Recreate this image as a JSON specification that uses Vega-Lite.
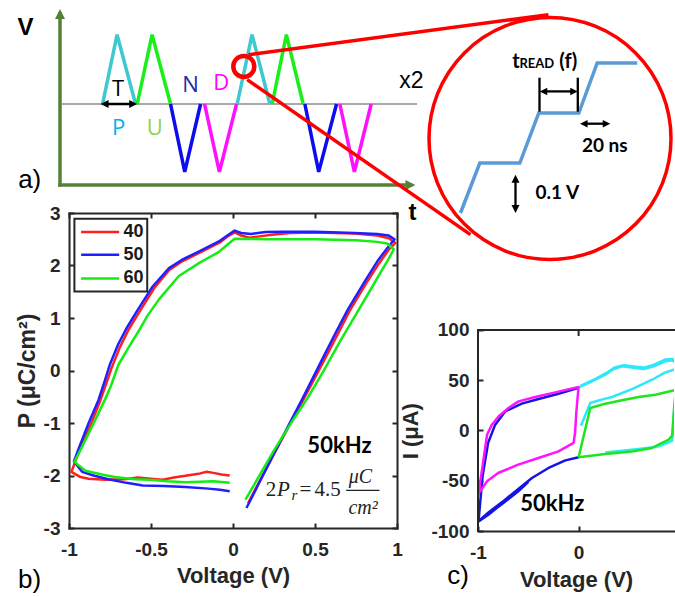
{
  "$schema": "https://vega.github.io/schema/vega-lite/v6.json",
  "padding": {"left": 16, "top": 9, "right": 0, "bottom": 0},
  "columns": 2,
  "bounds": "flush",
  "spacing": {"row": 28, "column": 62},
  "resolve": {"scale": {"color": "independent"}},
  "config": {
    "view": {"stroke": null},
    "axis": {
      "grid": false,
      "domainColor": "#262626", "domainWidth": 2, "domainCap": "square",
      "tickColor": "#262626", "tickWidth": 2, "tickSize": -5,
      "labelFont": "Liberation Sans", "labelFontSize": 19, "labelFontWeight": "bold", "labelColor": "#262626",
      "labelPadding": 17, "labelFlush": false,
      "titleFont": "Liberation Sans", "titleFontSize": 22, "titleFontWeight": "bold", "titleColor": "#262626"
    }
  },
  "concat": [
    {
      "width": 347, "height": 176,
      "encoding": {
        "x": {"field": "t", "type": "quantitative", "scale": {"domain": [0.2727, 10.788], "nice": false, "zero": false}, "axis": null},
        "y": {"field": "v", "type": "quantitative", "scale": {"domain": [-1.169, 1.371], "nice": false, "zero": false}, "axis": null}
      },
      "layer": [
        {
          "data": {"values": [{"t": 0.05, "t2": 10.82, "v": 0}]},
          "mark": {"type": "rule", "color": "#8c8c8c", "strokeWidth": 1.5},
          "encoding": {"x2": {"field": "t2"}}
        },
        {
          "data": {"values": [
            {"seg": 1, "kind": "P", "o": 0, "t": 1.29, "v": 0}, {"seg": 1, "kind": "P", "o": 1, "t": 1.73, "v": 1}, {"seg": 1, "kind": "P", "o": 2, "t": 2.29, "v": 0},
            {"seg": 2, "kind": "U", "o": 0, "t": 2.34, "v": 0}, {"seg": 2, "kind": "U", "o": 1, "t": 2.79, "v": 1}, {"seg": 2, "kind": "U", "o": 2, "t": 3.35, "v": 0},
            {"seg": 3, "kind": "N", "o": 0, "t": 3.35, "v": 0}, {"seg": 3, "kind": "N", "o": 1, "t": 3.78, "v": -0.98}, {"seg": 3, "kind": "N", "o": 2, "t": 4.26, "v": 0},
            {"seg": 4, "kind": "D", "o": 0, "t": 4.38, "v": 0}, {"seg": 4, "kind": "D", "o": 1, "t": 4.83, "v": -0.98}, {"seg": 4, "kind": "D", "o": 2, "t": 5.35, "v": 0},
            {"seg": 5, "kind": "P", "o": 0, "t": 5.37, "v": 0}, {"seg": 5, "kind": "P", "o": 1, "t": 5.82, "v": 1}, {"seg": 5, "kind": "P", "o": 2, "t": 6.36, "v": 0},
            {"seg": 6, "kind": "U", "o": 0, "t": 6.43, "v": 0}, {"seg": 6, "kind": "U", "o": 1, "t": 6.86, "v": 1}, {"seg": 6, "kind": "U", "o": 2, "t": 7.37, "v": 0},
            {"seg": 7, "kind": "N", "o": 0, "t": 7.42, "v": 0}, {"seg": 7, "kind": "N", "o": 1, "t": 7.84, "v": -0.98}, {"seg": 7, "kind": "N", "o": 2, "t": 8.38, "v": 0},
            {"seg": 8, "kind": "D", "o": 0, "t": 8.48, "v": 0}, {"seg": 8, "kind": "D", "o": 1, "t": 8.92, "v": -0.98}, {"seg": 8, "kind": "D", "o": 2, "t": 9.43, "v": 0}
          ]},
          "mark": {"type": "line", "strokeWidth": 3.5},
          "encoding": {
            "color": {"field": "kind", "type": "nominal", "scale": {"domain": ["P", "U", "N", "D"], "range": ["#3ec8cf", "#1aef1a", "#0c0cee", "#ff10ff"]}, "legend": null},
            "detail": {"field": "seg"},
            "order": {"field": "o", "type": "quantitative"}
          }
        },
        {
          "data": {"values": [
            {"t": 0, "t2": 0, "v": -1.169, "v2": 1.2987},
            {"t": 0, "t2": 10.62, "v": -1.169, "v2": -1.169}
          ]},
          "mark": {"type": "rule", "color": "#548235", "strokeWidth": 3.5, "strokeCap": "square"},
          "encoding": {"x2": {"field": "t2"}, "y2": {"field": "v2"}}
        },
        {
          "data": {"values": [{"t": 0, "v": 1.2987}]},
          "mark": {"type": "point", "shape": "M0,-1L1,1L-1,1Z", "size": 100, "filled": true, "opacity": 1, "color": "#548235"}
        },
        {
          "data": {"values": [{"t": 10.62, "v": -1.169}]},
          "mark": {"type": "point", "shape": "M1,0L-1,-1L-1,1Z", "size": 100, "filled": true, "opacity": 1, "color": "#548235"}
        },
        {
          "data": {"values": [{"t": 1.35, "t2": 2.218, "v": 0}]},
          "mark": {"type": "rule", "color": "#000000", "strokeWidth": 2.5},
          "encoding": {"x2": {"field": "t2"}}
        },
        {
          "data": {"values": [{"t": 1.35, "v": 0}]},
          "mark": {"type": "point", "shape": "M-1,0L1,-1L1,1Z", "size": 64, "filled": true, "opacity": 1, "color": "#000000"}
        },
        {
          "data": {"values": [{"t": 2.218, "v": 0}]},
          "mark": {"type": "point", "shape": "M1,0L-1,-1L-1,1Z", "size": 64, "filled": true, "opacity": 1, "color": "#000000"}
        },
        {
          "data": {"values": [
            {"t": 1.758, "v": 0.218, "txt": "T"},
            {"t": 1.779, "v": -0.346, "txt": "P"},
            {"t": 2.87, "v": -0.346, "txt": "U"},
            {"t": 3.955, "v": 0.278, "txt": "N"},
            {"t": 4.888, "v": 0.296, "txt": "D"}
          ]},
          "mark": {"type": "text", "font": "Open Sans", "fontSize": 22, "align": "center", "baseline": "middle"},
          "encoding": {
            "text": {"field": "txt", "type": "nominal"},
            "color": {"field": "txt", "type": "nominal", "scale": {"domain": ["T", "P", "U", "N", "D"], "range": ["#000000", "#00b0f0", "#92d050", "#1f2aa0", "#ff00ff"]}, "legend": null}
          }
        },
        {
          "data": {"values": [{"t": 10.645, "v": 0.326, "txt": "x2"}]},
          "mark": {"type": "text", "font": "Liberation Sans", "fontSize": 23, "align": "center", "baseline": "middle", "color": "#000000"},
          "encoding": {"text": {"field": "txt", "type": "nominal"}}
        },
        {
          "data": {"values": [{"t": -1.045, "v": 1.097, "txt": "V"}, {"t": 10.68, "v": -1.569, "txt": "t"}]},
          "mark": {"type": "text", "font": "Liberation Sans", "fontSize": 24, "fontWeight": "bold", "align": "center", "baseline": "middle", "color": "#000000"},
          "encoding": {"text": {"field": "txt", "type": "nominal"}}
        },
        {
          "data": {"values": [{"t": -0.918, "v": -1.104, "txt": "a)"}]},
          "mark": {"type": "text", "font": "Liberation Sans", "fontSize": 26, "align": "center", "baseline": "middle", "color": "#000000"},
          "encoding": {"text": {"field": "txt", "type": "nominal"}}
        },
        {
          "data": {"values": [{"t": 5.57, "v": 0.5426}]},
          "mark": {"type": "point", "shape": "circle", "size": 441, "filled": false, "opacity": 1, "color": "#ff0000", "strokeWidth": 4.5}
        },
        {
          "data": {"values": [
            {"t": 5.712, "v": 0.711, "t2": 14.803, "v2": 1.2886},
            {"t": 5.673, "v": 0.351, "t2": 12.439, "v2": -1.886}
          ]},
          "mark": {"type": "rule", "color": "#ff0000", "strokeWidth": 3.5},
          "encoding": {"x2": {"field": "t2"}, "y2": {"field": "v2"}}
        }
      ],
      "resolve": {"scale": {"color": "independent"}}
    },
    {
      "width": 196, "height": 176,
      "encoding": {
        "x": {"field": "ns", "type": "quantitative", "scale": {"domain": [0, 130.67], "nice": false, "zero": false}, "axis": null},
        "y": {"field": "volt", "type": "quantitative", "scale": {"domain": [0.056, 0.408], "nice": false, "zero": false}, "axis": null}
      },
      "layer": [
        {
          "data": {"values": [{"ns": 48.0, "volt": 0.149}]},
          "mark": {"type": "point", "shape": "circle", "size": 58564, "filled": false, "opacity": 1, "color": "#ff0000", "strokeWidth": 3.5}
        },
        {
          "data": {"values": [
            {"o": 0, "ns": -11.67, "volt": 0.0},
            {"o": 1, "ns": 1.2, "volt": 0.1},
            {"o": 2, "ns": 27.87, "volt": 0.1},
            {"o": 3, "ns": 40.53, "volt": 0.2},
            {"o": 4, "ns": 67.2, "volt": 0.2},
            {"o": 5, "ns": 79.47, "volt": 0.3},
            {"o": 6, "ns": 106.13, "volt": 0.3}
          ]},
          "mark": {"type": "line", "color": "#5b9bd5", "strokeWidth": 3.5},
          "encoding": {"order": {"field": "o", "type": "quantitative"}}
        },
        {
          "data": {"values": [
            {"ns": 41.0, "ns2": 41.0, "volt": 0.2026, "volt2": 0.2706},
            {"ns": 66.53, "ns2": 66.53, "volt": 0.2026, "volt2": 0.2706},
            {"ns": 43.67, "ns2": 64.0, "volt": 0.2432, "volt2": 0.2432},
            {"ns": 70.53, "ns2": 85.67, "volt": 0.1786, "volt2": 0.1786},
            {"ns": 25.0, "ns2": 25.0, "volt": 0.0686, "volt2": 0.008}
          ]},
          "mark": {"type": "rule", "color": "#000000", "strokeWidth": 2.3},
          "encoding": {"x2": {"field": "ns2"}, "y2": {"field": "volt2"}}
        },
        {
          "data": {"values": [{"ns": 43.67, "volt": 0.2432}, {"ns": 70.53, "volt": 0.1786}]},
          "mark": {"type": "point", "shape": "M-1,0L1,-1L1,1Z", "size": 56, "filled": true, "opacity": 1, "color": "#000000"}
        },
        {
          "data": {"values": [{"ns": 64.0, "volt": 0.2432}, {"ns": 85.67, "volt": 0.1786}]},
          "mark": {"type": "point", "shape": "M1,0L-1,-1L-1,1Z", "size": 56, "filled": true, "opacity": 1, "color": "#000000"}
        },
        {
          "data": {"values": [{"ns": 25.0, "volt": 0.0686}]},
          "mark": {"type": "point", "shape": "M0,-1L1,1L-1,1Z", "size": 64, "filled": true, "opacity": 1, "color": "#000000"}
        },
        {
          "data": {"values": [{"ns": 25.0, "volt": 0.008}]},
          "mark": {"type": "point", "shape": "M0,1L1,-1L-1,-1Z", "size": 64, "filled": true, "opacity": 1, "color": "#000000"}
        },
        {
          "data": {"values": [{"ns": 22.8, "volt": 0.29, "txt": "t"}, {"ns": 54.2, "volt": 0.29, "txt": "(f)"}]},
          "mark": {"type": "text", "font": "Lato", "fontSize": 20, "fontWeight": "bold", "align": "left", "baseline": "alphabetic", "color": "#000000"},
          "encoding": {"text": {"field": "txt", "type": "nominal"}}
        },
        {
          "data": {"values": [{"ns": 27.67, "volt": 0.29, "txt": "READ"}]},
          "mark": {"type": "text", "font": "Lato", "fontSize": 13, "fontWeight": "bold", "align": "left", "baseline": "alphabetic", "color": "#000000"},
          "encoding": {"text": {"field": "txt", "type": "nominal"}}
        },
        {
          "data": {"values": [{"ns": 84.53, "volt": 0.1332, "txt": "20 ns"}]},
          "mark": {"type": "text", "font": "Lato", "fontSize": 19, "fontWeight": "bold", "align": "center", "baseline": "middle", "color": "#000000"},
          "encoding": {"text": {"field": "txt", "type": "nominal"}}
        },
        {
          "data": {"values": [{"ns": 38.33, "volt": 0.04, "txt": "0.1 V"}]},
          "mark": {"type": "text", "font": "Lato", "fontSize": 19, "fontWeight": "bold", "align": "left", "baseline": "middle", "color": "#000000"},
          "encoding": {"text": {"field": "txt", "type": "nominal"}}
        }
      ]
    },
    {
      "width": 328, "height": 315,
      "encoding": {
        "x": {"field": "V", "type": "quantitative", "scale": {"domain": [-1, 1], "nice": false, "zero": false}, "axis": null},
        "y": {"field": "P", "type": "quantitative", "scale": {"domain": [-3, 3], "nice": false, "zero": false}, "axis": null}
      },
      "layer": [
        {
          "data": {"values": [
            {"s": "40", "o": 1, "V": 0.092, "P": -2.53}, {"s": "40", "o": 2, "V": 0.16, "P": -2.12}, {"s": "40", "o": 3, "V": 0.26, "P": -1.53},
            {"s": "40", "o": 4, "V": 0.36, "P": -0.95}, {"s": "40", "o": 5, "V": 0.43, "P": -0.55}, {"s": "40", "o": 6, "V": 0.56, "P": 0.22},
            {"s": "40", "o": 7, "V": 0.64, "P": 0.7}, {"s": "40", "o": 8, "V": 0.71, "P": 1.13}, {"s": "40", "o": 9, "V": 0.81, "P": 1.65},
            {"s": "40", "o": 10, "V": 0.89, "P": 2.04}, {"s": "40", "o": 11, "V": 0.95, "P": 2.3}, {"s": "40", "o": 12, "V": 0.99, "P": 2.43},
            {"s": "40", "o": 13, "V": 0.95, "P": 2.52}, {"s": "40", "o": 14, "V": 0.88, "P": 2.57}, {"s": "40", "o": 15, "V": 0.74, "P": 2.61},
            {"s": "40", "o": 16, "V": 0.5, "P": 2.63}, {"s": "40", "o": 17, "V": 0.35, "P": 2.62}, {"s": "40", "o": 18, "V": 0.25, "P": 2.59},
            {"s": "40", "o": 19, "V": 0.15, "P": 2.55}, {"s": "40", "o": 20, "V": 0.1, "P": 2.53}, {"s": "40", "o": 21, "V": 0.05, "P": 2.57},
            {"s": "40", "o": 22, "V": 0.01, "P": 2.63}, {"s": "40", "o": 23, "V": -0.03, "P": 2.56}, {"s": "40", "o": 24, "V": -0.08, "P": 2.44},
            {"s": "40", "o": 25, "V": -0.2, "P": 2.25}, {"s": "40", "o": 26, "V": -0.31, "P": 2.08}, {"s": "40", "o": 27, "V": -0.39, "P": 1.91},
            {"s": "40", "o": 28, "V": -0.48, "P": 1.57}, {"s": "40", "o": 29, "V": -0.57, "P": 1.12}, {"s": "40", "o": 30, "V": -0.64, "P": 0.76},
            {"s": "40", "o": 31, "V": -0.69, "P": 0.44}, {"s": "40", "o": 32, "V": -0.74, "P": 0.05}, {"s": "40", "o": 33, "V": -0.77, "P": -0.22},
            {"s": "40", "o": 34, "V": -0.81, "P": -0.58}, {"s": "40", "o": 35, "V": -0.87, "P": -1.05}, {"s": "40", "o": 36, "V": -0.92, "P": -1.4},
            {"s": "40", "o": 37, "V": -0.95, "P": -1.63}, {"s": "40", "o": 38, "V": -0.985, "P": -1.93}, {"s": "40", "o": 39, "V": -0.93, "P": -2.03},
            {"s": "40", "o": 40, "V": -0.88, "P": -2.06}, {"s": "40", "o": 41, "V": -0.78, "P": -2.08}, {"s": "40", "o": 42, "V": -0.66, "P": -2.07},
            {"s": "40", "o": 43, "V": -0.58, "P": -2.04}, {"s": "40", "o": 44, "V": -0.5, "P": -2.06}, {"s": "40", "o": 45, "V": -0.43, "P": -2.08},
            {"s": "40", "o": 46, "V": -0.36, "P": -2.04}, {"s": "40", "o": 47, "V": -0.28, "P": -2.0}, {"s": "40", "o": 48, "V": -0.2, "P": -1.96},
            {"s": "40", "o": 49, "V": -0.16, "P": -1.93}, {"s": "40", "o": 50, "V": -0.12, "P": -1.95}, {"s": "40", "o": 51, "V": -0.07, "P": -1.98},
            {"s": "40", "o": 52, "V": -0.02, "P": -2.0},
            {"s": "50", "o": 1, "V": 0.082, "P": -2.62}, {"s": "50", "o": 2, "V": 0.15, "P": -2.2}, {"s": "50", "o": 3, "V": 0.25, "P": -1.58},
            {"s": "50", "o": 4, "V": 0.35, "P": -0.98}, {"s": "50", "o": 5, "V": 0.42, "P": -0.56}, {"s": "50", "o": 6, "V": 0.55, "P": 0.25},
            {"s": "50", "o": 7, "V": 0.63, "P": 0.74}, {"s": "50", "o": 8, "V": 0.7, "P": 1.16}, {"s": "50", "o": 9, "V": 0.8, "P": 1.68},
            {"s": "50", "o": 10, "V": 0.88, "P": 2.08}, {"s": "50", "o": 11, "V": 0.94, "P": 2.33}, {"s": "50", "o": 12, "V": 0.985, "P": 2.5},
            {"s": "50", "o": 13, "V": 0.95, "P": 2.57}, {"s": "50", "o": 14, "V": 0.88, "P": 2.6}, {"s": "50", "o": 15, "V": 0.74, "P": 2.62},
            {"s": "50", "o": 16, "V": 0.5, "P": 2.645}, {"s": "50", "o": 17, "V": 0.3, "P": 2.645}, {"s": "50", "o": 18, "V": 0.2, "P": 2.64},
            {"s": "50", "o": 19, "V": 0.11, "P": 2.6}, {"s": "50", "o": 20, "V": 0.05, "P": 2.62}, {"s": "50", "o": 21, "V": 0.01, "P": 2.665},
            {"s": "50", "o": 22, "V": -0.03, "P": 2.58}, {"s": "50", "o": 23, "V": -0.08, "P": 2.47}, {"s": "50", "o": 24, "V": -0.2, "P": 2.28},
            {"s": "50", "o": 25, "V": -0.31, "P": 2.11}, {"s": "50", "o": 26, "V": -0.39, "P": 1.95}, {"s": "50", "o": 27, "V": -0.49, "P": 1.6},
            {"s": "50", "o": 28, "V": -0.58, "P": 1.16}, {"s": "50", "o": 29, "V": -0.65, "P": 0.8}, {"s": "50", "o": 30, "V": -0.7, "P": 0.5},
            {"s": "50", "o": 31, "V": -0.75, "P": 0.12}, {"s": "50", "o": 32, "V": -0.78, "P": -0.18}, {"s": "50", "o": 33, "V": -0.82, "P": -0.56},
            {"s": "50", "o": 34, "V": -0.88, "P": -1.0}, {"s": "50", "o": 35, "V": -0.94, "P": -1.48}, {"s": "50", "o": 36, "V": -0.97, "P": -1.73},
            {"s": "50", "o": 37, "V": -0.92, "P": -1.93}, {"s": "50", "o": 38, "V": -0.85, "P": -2.0}, {"s": "50", "o": 39, "V": -0.76, "P": -2.07},
            {"s": "50", "o": 40, "V": -0.65, "P": -2.14}, {"s": "50", "o": 41, "V": -0.55, "P": -2.19}, {"s": "50", "o": 42, "V": -0.42, "P": -2.2},
            {"s": "50", "o": 43, "V": -0.29, "P": -2.22}, {"s": "50", "o": 44, "V": -0.15, "P": -2.25}, {"s": "50", "o": 45, "V": -0.08, "P": -2.27},
            {"s": "50", "o": 46, "V": -0.02, "P": -2.3},
            {"s": "60", "o": 1, "V": 0.076, "P": -2.46}, {"s": "60", "o": 2, "V": 0.15, "P": -2.06}, {"s": "60", "o": 3, "V": 0.25, "P": -1.52},
            {"s": "60", "o": 4, "V": 0.35, "P": -1.02}, {"s": "60", "o": 5, "V": 0.45, "P": -0.55}, {"s": "60", "o": 6, "V": 0.55, "P": -0.02},
            {"s": "60", "o": 7, "V": 0.65, "P": 0.54}, {"s": "60", "o": 8, "V": 0.75, "P": 1.07}, {"s": "60", "o": 9, "V": 0.85, "P": 1.6},
            {"s": "60", "o": 10, "V": 0.91, "P": 1.92}, {"s": "60", "o": 11, "V": 0.95, "P": 2.13}, {"s": "60", "o": 12, "V": 0.98, "P": 2.31},
            {"s": "60", "o": 13, "V": 0.94, "P": 2.42}, {"s": "60", "o": 14, "V": 0.88, "P": 2.45}, {"s": "60", "o": 15, "V": 0.75, "P": 2.48},
            {"s": "60", "o": 16, "V": 0.5, "P": 2.5}, {"s": "60", "o": 17, "V": 0.2, "P": 2.5}, {"s": "60", "o": 18, "V": 0.01, "P": 2.51},
            {"s": "60", "o": 19, "V": -0.04, "P": 2.38}, {"s": "60", "o": 20, "V": -0.09, "P": 2.25}, {"s": "60", "o": 21, "V": -0.2, "P": 2.06},
            {"s": "60", "o": 22, "V": -0.33, "P": 1.8}, {"s": "60", "o": 23, "V": -0.45, "P": 1.36}, {"s": "60", "o": 24, "V": -0.52, "P": 1.05},
            {"s": "60", "o": 25, "V": -0.57, "P": 0.78}, {"s": "60", "o": 26, "V": -0.64, "P": 0.42}, {"s": "60", "o": 27, "V": -0.7, "P": 0.1},
            {"s": "60", "o": 28, "V": -0.745, "P": -0.3}, {"s": "60", "o": 29, "V": -0.78, "P": -0.55}, {"s": "60", "o": 30, "V": -0.84, "P": -0.94},
            {"s": "60", "o": 31, "V": -0.92, "P": -1.45}, {"s": "60", "o": 32, "V": -0.967, "P": -1.74}, {"s": "60", "o": 33, "V": -0.9, "P": -1.91},
            {"s": "60", "o": 34, "V": -0.8, "P": -1.98}, {"s": "60", "o": 35, "V": -0.72, "P": -2.03}, {"s": "60", "o": 36, "V": -0.6, "P": -2.07},
            {"s": "60", "o": 37, "V": -0.51, "P": -2.08}, {"s": "60", "o": 38, "V": -0.4, "P": -2.11}, {"s": "60", "o": 39, "V": -0.29, "P": -2.13},
            {"s": "60", "o": 40, "V": -0.2, "P": -2.12}, {"s": "60", "o": 41, "V": -0.12, "P": -2.11}, {"s": "60", "o": 42, "V": -0.02, "P": -2.14}
          ]},
          "mark": {"type": "line", "strokeWidth": 2.5, "strokeJoin": "round"},
          "encoding": {
            "x": {"field": "V", "type": "quantitative", "scale": {"domain": [-1, 1], "nice": false, "zero": false},
                  "axis": {"orient": "bottom", "values": [-1, -0.5, 0, 0.5, 1], "labelExpr": "toString(datum.value)", "title": "Voltage (V)", "titlePadding": 6}},
            "y": {"field": "P", "type": "quantitative", "scale": {"domain": [-3, 3], "nice": false, "zero": false},
                  "axis": {"orient": "left", "values": [-3, -2, -1, 0, 1, 2, 3], "labelExpr": "toString(datum.value)", "labelPadding": 14, "title": "P (μC/cm²)", "titleFontSize": 23, "titlePadding": 4}},
            "color": {"field": "s", "type": "nominal", "scale": {"domain": ["40", "50", "60"], "range": ["#ff1f1f", "#1f1fff", "#14ec14"]}, "legend": null},
            "order": {"field": "o", "type": "quantitative"}
          }
        },
        {
          "data": {"values": [{"V": -0.967, "V2": -0.523, "P": 2.89, "P2": 1.507}]},
          "mark": {"type": "rect", "fill": "#ffffff", "stroke": "#262626", "strokeWidth": 2},
          "encoding": {"x2": {"field": "V2"}, "y2": {"field": "P2"}}
        },
        {
          "data": {"values": [
            {"s": "40", "V": -0.926, "V2": -0.694, "P": 2.638},
            {"s": "50", "V": -0.926, "V2": -0.694, "P": 2.206},
            {"s": "60", "V": -0.926, "V2": -0.694, "P": 1.754}
          ]},
          "mark": {"type": "rule", "strokeWidth": 2.5},
          "encoding": {
            "x": {"field": "V", "type": "quantitative", "scale": {"domain": [-1, 1], "nice": false, "zero": false},
                  "axis": {"orient": "top", "labels": false, "title": null, "values": [-1, -0.5, 0, 0.5, 1]}},
            "y": {"field": "P", "type": "quantitative", "scale": {"domain": [-3, 3], "nice": false, "zero": false},
                  "axis": {"orient": "right", "labels": false, "title": null, "values": [-3, -2, -1, 0, 1, 2, 3]}},
            "x2": {"field": "V2"},
            "color": {"field": "s", "type": "nominal", "scale": {"domain": ["40", "50", "60"], "range": ["#ff1f1f", "#1f1fff", "#14ec14"]}, "legend": null}
          }
        },
        {
          "data": {"values": [
            {"s": "40", "V": -0.668, "P": 2.638},
            {"s": "50", "V": -0.668, "P": 2.206},
            {"s": "60", "V": -0.668, "P": 1.754}
          ]},
          "mark": {"type": "text", "font": "Liberation Sans", "fontSize": 18, "fontWeight": "bold", "align": "left", "baseline": "middle", "color": "#1a1a1a"},
          "encoding": {"text": {"field": "s", "type": "nominal"}}
        },
        {
          "data": {"values": [{"V": 0.649, "P": -1.438, "txt": "50kHz"}]},
          "mark": {"type": "text", "font": "Lato", "fontSize": 22, "fontWeight": "bold", "align": "center", "baseline": "middle", "color": "#000000"},
          "encoding": {"text": {"field": "txt", "type": "nominal"}}
        },
        {
          "data": {"values": [
            {"V": 0.2, "P": -2.385, "txt": "2"},
            {"V": 0.405, "P": -2.385, "txt": "="},
            {"V": 0.497, "P": -2.385, "txt": "4.5"}
          ]},
          "mark": {"type": "text", "font": "Liberation Serif", "fontSize": 21, "align": "left", "baseline": "alphabetic", "color": "#222222"},
          "encoding": {"text": {"field": "txt", "type": "nominal"}}
        },
        {
          "data": {"values": [{"V": 0.268, "P": -2.385, "txt": "P"}]},
          "mark": {"type": "text", "font": "Liberation Serif", "fontSize": 21, "fontStyle": "italic", "align": "left", "baseline": "alphabetic", "color": "#222222"},
          "encoding": {"text": {"field": "txt", "type": "nominal"}}
        },
        {
          "data": {"values": [{"V": 0.356, "P": -2.46, "txt": "r"}]},
          "mark": {"type": "text", "font": "Liberation Serif", "fontSize": 15, "fontStyle": "italic", "align": "left", "baseline": "alphabetic", "color": "#222222"},
          "encoding": {"text": {"field": "txt", "type": "nominal"}}
        },
        {
          "data": {"values": [
            {"V": 0.777, "P": -2.143, "txt": "μC"},
            {"V": 0.793, "P": -2.728, "txt": "cm²"}
          ]},
          "mark": {"type": "text", "font": "Liberation Serif", "fontSize": 20, "fontStyle": "italic", "align": "center", "baseline": "alphabetic", "color": "#222222"},
          "encoding": {"text": {"field": "txt", "type": "nominal"}}
        },
        {
          "data": {"values": [{"V": 0.69, "V2": 0.893, "P": -2.284}]},
          "mark": {"type": "rule", "color": "#222222", "strokeWidth": 1.2},
          "encoding": {"x2": {"field": "V2"}}
        },
        {
          "data": {"values": [{"V": -1.24, "P": -3.985, "txt": "b)"}]},
          "mark": {"type": "text", "font": "Liberation Sans", "fontSize": 26, "align": "center", "baseline": "middle", "color": "#000000"},
          "encoding": {"text": {"field": "txt", "type": "nominal"}}
        }
      ],
      "resolve": {"axis": {"x": "independent", "y": "independent"}}
    },
    {
      "width": 196, "height": 318,
      "encoding": {
        "x": {"field": "V", "type": "quantitative", "scale": {"domain": [-1, 0.948], "nice": false, "zero": false}, "axis": null},
        "y": {"field": "I", "type": "quantitative", "scale": {"domain": [-100, 216.4], "nice": false, "zero": false}, "axis": null}
      },
      "layer": [
        {
          "data": {"values": [
            {"k": "N", "c": "1n", "o": 0, "V": 0, "I": -26.7}, {"k": "N", "c": "1n", "o": 1, "V": -0.132, "I": -29.7}, {"k": "N", "c": "1n", "o": 2, "V": -0.299, "I": -37.3},
            {"k": "N", "c": "1n", "o": 3, "V": -0.464, "I": -47.3}, {"k": "N", "c": "1n", "o": 4, "V": -0.63, "I": -60.6}, {"k": "N", "c": "1n", "o": 5, "V": -0.763, "I": -71.5},
            {"k": "N", "c": "1n", "o": 6, "V": -0.896, "I": -81.5}, {"k": "N", "c": "1n", "o": 7, "V": -0.995, "I": -90.4}, {"k": "N", "c": "1n", "o": 8, "V": -0.955, "I": -45.7},
            {"k": "N", "c": "1n", "o": 9, "V": -0.9, "I": -12.4}, {"k": "N", "c": "1n", "o": 10, "V": -0.829, "I": 5.8}, {"k": "N", "c": "1n", "o": 11, "V": -0.73, "I": 19},
            {"k": "N", "c": "1n", "o": 12, "V": -0.565, "I": 26.7}, {"k": "N", "c": "1n", "o": 13, "V": -0.398, "I": 31.3}, {"k": "N", "c": "1n", "o": 14, "V": -0.2, "I": 36.6},
            {"k": "N", "c": "1n", "o": 15, "V": 0, "I": 42.4},
            {"k": "N", "c": "2n", "o": 0, "V": -0.995, "I": -90.4}, {"k": "N", "c": "2n", "o": 1, "V": -0.9, "I": -84}, {"k": "N", "c": "2n", "o": 2, "V": -0.8, "I": -76},
            {"k": "N", "c": "2n", "o": 3, "V": -0.7, "I": -68.5}, {"k": "N", "c": "2n", "o": 4, "V": -0.6, "I": -60.5}, {"k": "N", "c": "2n", "o": 5, "V": -0.5, "I": -51},
            {"k": "P", "c": "3p", "o": 0, "V": 0, "I": 43}, {"k": "P", "c": "3p", "o": 1, "V": 0.133, "I": 48.9}, {"k": "P", "c": "3p", "o": 2, "V": 0.266, "I": 55.5},
            {"k": "P", "c": "3p", "o": 3, "V": 0.348, "I": 61.2}, {"k": "P", "c": "3p", "o": 4, "V": 0.431, "I": 63.9}, {"k": "P", "c": "3p", "o": 5, "V": 0.564, "I": 62.2},
            {"k": "P", "c": "3p", "o": 6, "V": 0.647, "I": 61.2}, {"k": "P", "c": "3p", "o": 7, "V": 0.746, "I": 63.9}, {"k": "P", "c": "3p", "o": 8, "V": 0.862, "I": 68.8},
            {"k": "P", "c": "3p", "o": 9, "V": 0.929, "I": 69.8}, {"k": "P", "c": "3p", "o": 10, "V": 0.978, "I": 67},
            {"k": "P", "c": "4p", "o": 0, "V": 0.02, "I": 44.5}, {"k": "P", "c": "4p", "o": 1, "V": 0.15, "I": 50.5}, {"k": "P", "c": "4p", "o": 2, "V": 0.28, "I": 57.5},
            {"k": "P", "c": "4p", "o": 3, "V": 0.36, "I": 62.8}, {"k": "P", "c": "4p", "o": 4, "V": 0.45, "I": 65}, {"k": "P", "c": "4p", "o": 5, "V": 0.57, "I": 63.4},
            {"k": "P", "c": "4p", "o": 6, "V": 0.65, "I": 62.6}, {"k": "P", "c": "4p", "o": 7, "V": 0.75, "I": 65.5}, {"k": "P", "c": "4p", "o": 8, "V": 0.86, "I": 70.6},
            {"k": "P", "c": "4p", "o": 9, "V": 0.93, "I": 71.2}, {"k": "P", "c": "4p", "o": 10, "V": 0.98, "I": 69},
            {"k": "P", "c": "5p", "o": 0, "V": 0.023, "I": 4.8}, {"k": "P", "c": "5p", "o": 1, "V": 0.116, "I": 27.4}, {"k": "P", "c": "5p", "o": 2, "V": 0.2, "I": 30},
            {"k": "P", "c": "5p", "o": 3, "V": 0.332, "I": 33.3}, {"k": "P", "c": "5p", "o": 4, "V": 0.531, "I": 41.2}, {"k": "P", "c": "5p", "o": 5, "V": 0.73, "I": 50.5},
            {"k": "P", "c": "5p", "o": 6, "V": 0.862, "I": 57.8}, {"k": "P", "c": "5p", "o": 7, "V": 0.945, "I": 60.5}, {"k": "P", "c": "5p", "o": 8, "V": 0.98, "I": 61},
            {"k": "P", "c": "6p", "o": 0, "V": 0.266, "I": -22}, {"k": "P", "c": "6p", "o": 1, "V": 0.597, "I": -18.4}, {"k": "P", "c": "6p", "o": 2, "V": 0.796, "I": -15.8},
            {"k": "P", "c": "6p", "o": 3, "V": 0.896, "I": -11.7}, {"k": "P", "c": "6p", "o": 4, "V": 0.93, "I": -10}, {"k": "P", "c": "6p", "o": 5, "V": 0.945, "I": 15},
            {"k": "P", "c": "6p", "o": 6, "V": 0.955, "I": 28},
            {"k": "U", "c": "7u", "o": 0, "V": 0, "I": -26.7}, {"k": "U", "c": "7u", "o": 1, "V": 0.116, "I": 22.4}, {"k": "U", "c": "7u", "o": 2, "V": 0.266, "I": 26.7},
            {"k": "U", "c": "7u", "o": 3, "V": 0.431, "I": 30}, {"k": "U", "c": "7u", "o": 4, "V": 0.597, "I": 33.3}, {"k": "U", "c": "7u", "o": 5, "V": 0.763, "I": 35.6},
            {"k": "U", "c": "7u", "o": 6, "V": 0.929, "I": 39.6}, {"k": "U", "c": "7u", "o": 7, "V": 0.978, "I": 40.6},
            {"k": "U", "c": "8u", "o": 0, "V": 0, "I": -26.7}, {"k": "U", "c": "8u", "o": 1, "V": 0.266, "I": -23.4}, {"k": "U", "c": "8u", "o": 2, "V": 0.531, "I": -20.8},
            {"k": "U", "c": "8u", "o": 3, "V": 0.73, "I": -17.4}, {"k": "U", "c": "8u", "o": 4, "V": 0.83, "I": -12.4}, {"k": "U", "c": "8u", "o": 5, "V": 0.896, "I": -9.1},
            {"k": "U", "c": "8u", "o": 6, "V": 0.93, "I": -5}, {"k": "U", "c": "8u", "o": 7, "V": 0.955, "I": 30}, {"k": "U", "c": "8u", "o": 8, "V": 0.97, "I": 40},
            {"k": "D", "c": "9d", "o": 0, "V": 0, "I": 43.9}, {"k": "D", "c": "9d", "o": 1, "V": -0.023, "I": 18}, {"k": "D", "c": "9d", "o": 2, "V": -0.035, "I": -2},
            {"k": "D", "c": "9d", "o": 3, "V": -0.05, "I": -12.4}, {"k": "D", "c": "9d", "o": 4, "V": -0.2, "I": -20.8}, {"k": "D", "c": "9d", "o": 5, "V": -0.4, "I": -27.4},
            {"k": "D", "c": "9d", "o": 6, "V": -0.6, "I": -34}, {"k": "D", "c": "9d", "o": 7, "V": -0.8, "I": -42.3}, {"k": "D", "c": "9d", "o": 8, "V": -0.91, "I": -50.6},
            {"k": "D", "c": "9d", "o": 9, "V": -0.988, "I": -61.6}, {"k": "D", "c": "9d", "o": 10, "V": -1.0, "I": -65.6}, {"k": "D", "c": "9d", "o": 11, "V": -0.955, "I": -35.7},
            {"k": "D", "c": "9d", "o": 12, "V": -0.91, "I": -4.2}, {"k": "D", "c": "9d", "o": 13, "V": -0.862, "I": 5.8}, {"k": "D", "c": "9d", "o": 14, "V": -0.796, "I": 14},
            {"k": "D", "c": "9d", "o": 15, "V": -0.697, "I": 22.4}, {"k": "D", "c": "9d", "o": 16, "V": -0.597, "I": 29}, {"k": "D", "c": "9d", "o": 17, "V": -0.431, "I": 33.3},
            {"k": "D", "c": "9d", "o": 18, "V": -0.232, "I": 37.9}, {"k": "D", "c": "9d", "o": 19, "V": 0, "I": 43.2}
          ]},
          "mark": {"type": "line", "strokeWidth": 2.5, "strokeJoin": "round", "clip": true},
          "encoding": {
            "x": {"field": "V", "type": "quantitative", "scale": {"domain": [-1, 0.948], "nice": false, "zero": false},
                  "axis": {"orient": "bottom", "values": [-1, 0], "labelExpr": "toString(datum.value)", "labelPadding": 17, "title": "Voltage (V)", "titlePadding": 7}},
            "y": {"field": "I", "type": "quantitative", "scale": {"domain": [-100, 216.4], "nice": false, "zero": false},
                  "axis": {"orient": "left", "domain": false, "values": [-100, -50, 0, 50, 100], "labelExpr": "toString(datum.value)", "labelPadding": 14, "title": "I (μA)", "titlePadding": 8, "titleY": 217.7}},
            "color": {"field": "k", "type": "nominal", "scale": {"domain": ["N", "P", "U", "D"], "range": ["#1414e6", "#2de8f8", "#1ee61e", "#ff14ff"]}, "legend": null},
            "detail": {"field": "c"},
            "order": {"field": "o", "type": "quantitative"}
          }
        },
        {
          "data": {"values": [
            {"V": -1, "V2": -1, "I": -100, "I2": 100},
            {"V": -1, "V2": 0.948, "I": 100, "I2": 100},
            {"V": 0, "V2": 0, "I": 100, "I2": 95}
          ]},
          "mark": {"type": "rule", "color": "#262626", "strokeWidth": 2, "strokeCap": "square"},
          "encoding": {"x2": {"field": "V2"}, "y2": {"field": "I2"}}
        },
        {
          "data": {"values": [{"V": -0.262, "I": -72.8, "txt": "50kHz"}]},
          "mark": {"type": "text", "font": "Lato", "fontSize": 22, "fontWeight": "bold", "align": "center", "baseline": "middle", "color": "#000000"},
          "encoding": {"text": {"field": "txt", "type": "nominal"}}
        },
        {
          "data": {"values": [{"V": -1.199, "I": -145.2, "txt": "c)"}]},
          "mark": {"type": "text", "font": "Liberation Sans", "fontSize": 26, "align": "center", "baseline": "middle", "color": "#000000"},
          "encoding": {"text": {"field": "txt", "type": "nominal"}}
        }
      ],
      "resolve": {"axis": {"x": "independent", "y": "independent"}}
    }
  ]
}
